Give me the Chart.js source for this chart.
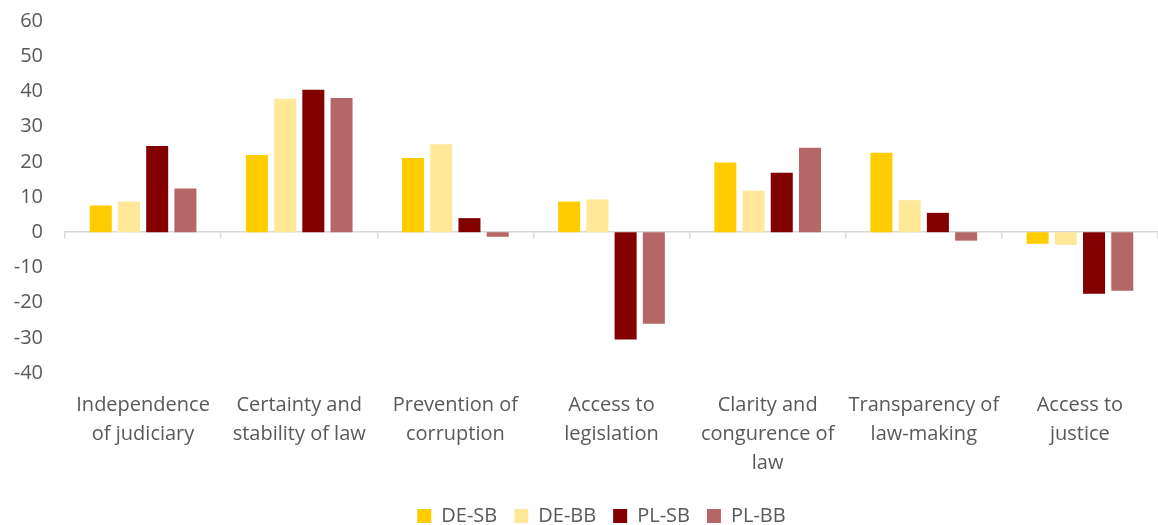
<!DOCTYPE html>
<html>
<head>
<meta charset="utf-8">
<script src="https://cdn.jsdelivr.net/npm/chart.js@4/dist/chart.umd.min.js"></script>
<style>
  html, body { margin: 0; padding: 0; background: #ffffff; }
  #wrap { width: 1158px; height: 525px; position: relative; }
</style>
</head>
<body>
<div id="wrap"><canvas id="chart" width="1158" height="525"></canvas></div>
<script>
// Rule-of-law dimensions (wrapped into display lines)
const categories = [
  ["Independence", "of judiciary"],
  ["Certainty and", "stability of law"],
  ["Prevention of", "corruption"],
  ["Access to", "legislation"],
  ["Clarity and", "congurence of", "law"],
  ["Transparency of", "law-making"],
  ["Access to", "justice"]
];

const seriesNames = ["DE-SB", "DE-BB", "PL-SB", "PL-BB"];
const deSB = [7.6, 21.9, 21.1, 8.7, 19.8, 22.6, -3.3];
const deBB = [8.7, 37.9, 25.0, 9.3, 11.8, 9.1, -3.6];
const plSB = [24.5, 40.5, 4.0, -30.5, 16.9, 5.5, -17.5];
const plBB = [12.4, 38.1, -1.3, -26.0, 24.0, -2.4, -16.6];
const seriesColors = ["#FFCC00", "#FFE999", "#820000", "#B56767"];

const yMin = -40, yMax = 60, yStep = 10;

const textColor = "#595959";
const axisColor = "#d9d9d9";
const baseFont = { family: "'Open Sans', 'DejaVu Sans', sans-serif", size: 20 };

const seriesValues = [deSB, deBB, plSB, plBB];
const datasets = seriesNames.map((name, i) => ({
  label: name,
  data: seriesValues[i],
  backgroundColor: seriesColors[i],
  borderWidth: 0,
  categoryPercentage: 0.723,
  barPercentage: 0.78,
  xAxisID: "x",
  yAxisID: "y"
}));

// nudge the legend row so it sits centred under the plot rather than the canvas
const legendShift = {
  id: "legendShift",
  afterLayout(chart) {
    const lg = chart.legend;
    if (lg) { lg.left += 19; lg.right += 19; }
  }
};

new Chart(document.getElementById("chart"), {
  type: "bar",
  data: { labels: categories, datasets },
  plugins: [legendShift],
  options: {
    responsive: false,
    animation: false,
    layout: { padding: { top: 21, left: 0, right: -7, bottom: -11 } },
    plugins: {
      legend: {
        position: "bottom",
        labels: {
          boxWidth: 14,
          boxHeight: 14,
          padding: 17,
          color: textColor,
          font: baseFont
        }
      },
      tooltip: { enabled: false }
    },
    scales: {
      x: {
        type: "category",
        position: "bottom",
        grid: { display: false, drawTicks: false },
        border: { display: false },
        ticks: {
          color: textColor,
          font: { ...baseFont, lineHeight: 1.45 },
          padding: 18,
          maxRotation: 0,
          autoSkip: false
        },
        afterFit: (scale) => { scale.height = 116; }
      },
      // category axis drawn along the zero line, with boundary tick marks
      xZero: {
        type: "category",
        labels: categories,
        position: { y: 0 },
        offset: true,
        grid: {
          display: true,
          offset: true,
          drawOnChartArea: false,
          drawTicks: true,
          tickLength: 6,
          color: axisColor,
          lineWidth: 1.5
        },
        border: { display: true, color: axisColor, width: 1.5 },
        ticks: { display: false }
      },
      y: {
        min: yMin,
        max: yMax,
        grid: { display: false, drawTicks: false },
        border: { display: false },
        ticks: {
          stepSize: yStep,
          color: textColor,
          font: baseFont,
          padding: 22
        },
        afterFit: (scale) => {
          scale.width = 65;
          // the label gap is horizontal only; keep it out of the vertical overhang
          scale.paddingTop = 12;
          scale.paddingBottom = 12;
        }
      }
    }
  }
});
</script>
</body>
</html>
